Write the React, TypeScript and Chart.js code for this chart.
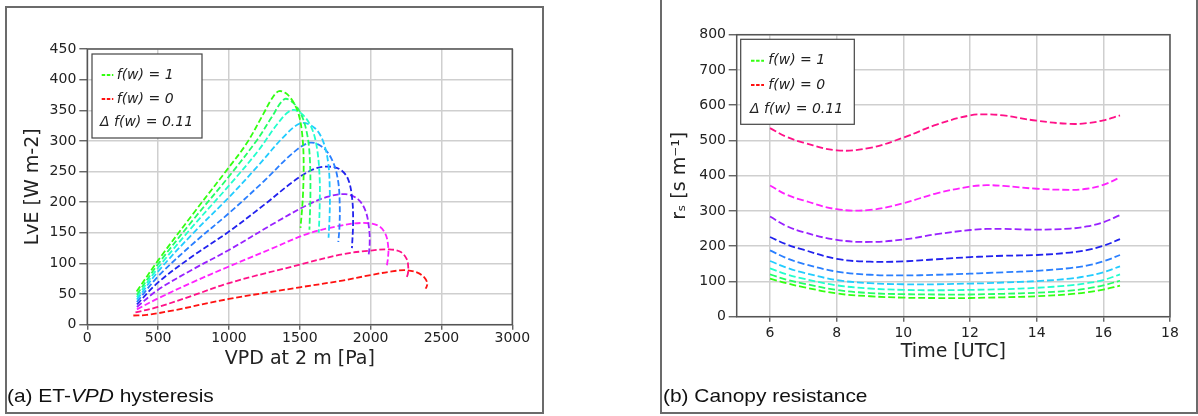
import React, { useEffect, useRef } from 'react';
import { Chart, registerables } from 'chart.js';

Chart.register(...registerables);

// ---------------- Panel (a): ET-VPD hysteresis ----------------
const vpdTicks = [0, 500, 1000, 1500, 2000, 2500, 3000];
const lveTicks = [0, 50, 100, 150, 200, 250, 300, 350, 400, 450];

// one loop per soil-water factor f(w), VPD [Pa] and LvE [W m-2]
const vpd_f100 = [348, 500, 750, 1000, 1125, 1245, 1300, 1350, 1400, 1450, 1490, 1515, 1527, 1522, 1505];
const lve_f100 = [54, 105, 182, 257, 296, 345, 368, 381, 378, 365, 345, 315, 270, 210, 158];
const vpd_f089 = [350, 500, 750, 1000, 1200, 1300, 1390, 1450, 1510, 1550, 1570, 1575, 1568];
const lve_f089 = [49, 99, 172, 242, 302, 338, 368, 363, 343, 313, 275, 215, 155];
const vpd_f078 = [350, 500, 750, 1000, 1200, 1350, 1440, 1510, 1580, 1620, 1640, 1640, 1634];
const lve_f078 = [45, 93, 162, 227, 282, 330, 350, 345, 323, 290, 240, 190, 150];
const vpd_f067 = [350, 500, 750, 1000, 1200, 1400, 1510, 1600, 1660, 1700, 1712, 1710, 1703];
const lve_f067 = [41, 87, 150, 208, 258, 310, 329, 322, 302, 265, 215, 175, 142];
const vpd_f056 = [350, 500, 750, 1000, 1250, 1450, 1570, 1660, 1730, 1770, 1782, 1780, 1772];
const lve_f056 = [37, 79, 133, 182, 235, 280, 297, 290, 268, 235, 195, 160, 135];
const vpd_f044 = [350, 500, 750, 1000, 1250, 1450, 1580, 1680, 1780, 1840, 1870, 1876, 1868];
const lve_f044 = [33, 69, 113, 152, 196, 233, 252, 258, 254, 238, 205, 165, 125];
const vpd_f033 = [350, 500, 750, 1000, 1300, 1550, 1700, 1820, 1910, 1965, 1990, 1993, 1985];
const lve_f033 = [29, 57, 91, 122, 163, 195, 209, 213, 205, 185, 155, 130, 112];
const vpd_f022 = [350, 500, 750, 1000, 1300, 1550, 1750, 1930, 2050, 2105, 2125, 2122, 2115];
const lve_f022 = [25, 43, 70, 95, 124, 148, 160, 166, 162, 148, 125, 108, 97];
const vpd_f011 = [340, 500, 750, 1000, 1500, 1800, 2000, 2130, 2210, 2255, 2266, 2262, 2255];
const lve_f011 = [20, 29, 48, 68, 98, 115, 121, 123, 119, 107, 92, 82, 78];
const vpd_f000 = [325, 420, 600, 1000, 1500, 1800, 2000, 2150, 2250, 2330, 2380, 2400, 2395, 2388];
const lve_f000 = [15, 16, 23, 42, 61, 72, 81, 87, 89, 85, 77, 68, 62, 59];

// ---------------- Panel (b): canopy resistance ----------------
const timeTicks = [6, 8, 10, 12, 14, 16, 18];
const rsTicks = [0, 100, 200, 300, 400, 500, 600, 700, 800];
const timeUTC = [6, 6.5, 7, 8, 9, 10, 11, 12, 12.5, 13, 14, 15, 15.5, 16, 16.5];
const rs_f100 = [108, 95, 84, 66, 58, 54, 53, 53, 54, 55, 58, 64, 69, 77, 88];
const rs_f089 = [120, 105, 94, 76, 67, 64, 63, 63, 64, 65, 68, 74, 80, 89, 102];
const rs_f078 = [137, 120, 108, 89, 80, 76, 75, 76, 77, 78, 82, 89, 95, 104, 120];
const rs_f067 = [158, 139, 125, 104, 95, 92, 92, 94, 95, 97, 101, 108, 115, 126, 143];
const rs_f056 = [188, 166, 150, 128, 119, 117, 119, 122, 124, 126, 130, 138, 145, 157, 175];
const rs_f044 = [226, 205, 190, 164, 156, 157, 163, 169, 171, 173, 175, 182, 189, 201, 220];
const rs_f033 = [284, 257, 240, 218, 212, 219, 234, 246, 249, 249, 247, 250, 256, 268, 288];
const rs_f022 = [372, 346, 330, 305, 303, 322, 350, 369, 373, 371, 363, 360, 363, 374, 395];
const rs_f011 = [535, 510, 494, 472, 479, 508, 545, 571, 574, 571, 556, 547, 549, 557, 571];

const fwLabels = ['f(w) = 1', 'f(w) = 0.89', 'f(w) = 0.78', 'f(w) = 0.67', 'f(w) = 0.56',
  'f(w) = 0.44', 'f(w) = 0.33', 'f(w) = 0.22', 'f(w) = 0.11', 'f(w) = 0'];
const fwColors = ['#33ff11', '#22ff66', '#22ffcc', '#22ccff', '#2a7fff',
  '#2222ee', '#9922ff', '#ff22ff', '#ff1188', '#ff1111'];
const legendTexts = ['f(w) = 1', 'f(w) = 0', 'Δ f(w) = 0.11'];

const FAM = '"DejaVu Sans", "Liberation Sans", sans-serif';

const zip = (xs: number[], ys: number[]) => xs.map((x, i) => ({ x, y: ys[i] }));

const leftSeries = [
  [vpd_f100, lve_f100], [vpd_f089, lve_f089], [vpd_f078, lve_f078], [vpd_f067, lve_f067],
  [vpd_f056, lve_f056], [vpd_f044, lve_f044], [vpd_f033, lve_f033], [vpd_f022, lve_f022],
  [vpd_f011, lve_f011], [vpd_f000, lve_f000],
];
const rightSeries = [rs_f100, rs_f089, rs_f078, rs_f067, rs_f056, rs_f044, rs_f033, rs_f022, rs_f011];

type Lay = {
  padT: number; padR: number; padB: number; yW: number; xH: number; yTitlePad: number;
  yTickLen: number; yTickPad: number; xTickLen: number; xTickPad: number;
};
type Leg = { dx: number; dy: number; w: number; h: number; rows: number[]; sx0: number; sx1: number; tx: number; dtx: number };

function frameLegendPlugin(leg: Leg) {
  return {
    id: 'frameLegend',
    afterDatasetsDraw(chart: any) {
      const { ctx, chartArea: a } = chart;
      ctx.save();
      ctx.setLineDash([]);
      ctx.strokeStyle = '#555';
      ctx.lineWidth = 1.5;
      ctx.strokeRect(a.left, a.top, a.right - a.left, a.bottom - a.top);
      const bx = a.left + leg.dx;
      const by = a.top + leg.dy;
      ctx.fillStyle = '#ffffff';
      ctx.fillRect(bx, by, leg.w, leg.h);
      ctx.strokeStyle = '#444';
      ctx.lineWidth = 1.2;
      ctx.strokeRect(bx, by, leg.w, leg.h);
      ctx.font = `italic 14px ${FAM}`;
      ctx.textBaseline = 'middle';
      ctx.textAlign = 'left';
      const sampleColors = [fwColors[0], fwColors[9], null];
      legendTexts.forEach((t, i) => {
        const y = by + leg.rows[i];
        const c = sampleColors[i];
        if (c) {
          ctx.setLineDash([3.5, 1.6]);
          ctx.strokeStyle = c;
          ctx.lineWidth = 2;
          ctx.beginPath();
          ctx.moveTo(bx + leg.sx0, y);
          ctx.lineTo(bx + leg.sx1, y);
          ctx.stroke();
          ctx.setLineDash([]);
          ctx.fillStyle = '#222';
          ctx.fillText(t, bx + leg.tx, y);
        } else {
          ctx.fillStyle = '#222';
          ctx.fillText(t, bx + leg.dtx, y);
        }
      });
      ctx.restore();
    },
  };
}

function buildConfig(opts: {
  datasets: any[]; xMin: number; xMax: number; yMin: number; yMax: number;
  xTicks: number[]; yTicks: number[]; xTitle: string; yTitle: string; lay: Lay; leg: Leg;
}) {
  const { lay } = opts;
  return {
    type: 'scatter' as const,
    data: { datasets: opts.datasets },
    options: {
      animation: false,
      responsive: false,
      maintainAspectRatio: false,
      devicePixelRatio: 1,
      layout: { padding: { left: 0, top: lay.padT, right: lay.padR, bottom: lay.padB } },
      plugins: { legend: { display: false }, tooltip: { enabled: false } },
      scales: {
        x: {
          type: 'linear',
          min: opts.xMin,
          max: opts.xMax,
          afterBuildTicks: (s: any) => { s.ticks = opts.xTicks.map((v) => ({ value: v })); },
          afterFit: (s: any) => { s.height = lay.xH; },
          ticks: {
            autoSkip: false, maxRotation: 0, padding: lay.xTickPad, color: '#222',
            font: { family: FAM, size: 14 }, callback: (v: any) => String(v),
          },
          grid: { color: '#cfcfcf', lineWidth: 1.5, tickLength: lay.xTickLen, tickColor: '#555', tickWidth: 1.3 },
          border: { display: false },
          title: { display: true, text: opts.xTitle, color: '#222', font: { family: FAM, size: 19 }, padding: 0 },
        },
        y: {
          type: 'linear',
          min: opts.yMin,
          max: opts.yMax,
          afterBuildTicks: (s: any) => { s.ticks = opts.yTicks.map((v) => ({ value: v })); },
          afterFit: (s: any) => { s.width = lay.yW; },
          ticks: {
            autoSkip: false, padding: lay.yTickPad, color: '#222',
            font: { family: FAM, size: 14 }, callback: (v: any) => String(v),
          },
          grid: { color: '#cfcfcf', lineWidth: 1.5, tickLength: lay.yTickLen, tickColor: '#555', tickWidth: 1.3 },
          border: { display: false },
          title: {
            display: true, text: opts.yTitle, color: '#222', font: { family: FAM, size: 19 },
            padding: { top: lay.yTitlePad, bottom: 0 },
          },
        },
      },
    },
    plugins: [frameLegendPlugin(opts.leg)],
  };
}

function ChartCanvas(props: { left: number; width: number; build: () => any }) {
  const ref = useRef<HTMLCanvasElement | null>(null);
  useEffect(() => {
    if (!ref.current) return;
    const chart = new Chart(ref.current, props.build());
    return () => chart.destroy();
  }, []);
  return (
    <canvas
      ref={ref}
      width={props.width}
      height={416}
      style={{ position: 'absolute', left: props.left, top: 0, width: props.width, height: 416, display: 'block' }}
    />
  );
}

const buildLeft = () =>
  buildConfig({
    datasets: leftSeries.map(([xs, ys], i) => ({
      label: fwLabels[i],
      data: zip(xs, ys),
      showLine: true,
      borderColor: fwColors[i],
      backgroundColor: fwColors[i],
      borderWidth: 1.8,
      borderDash: [6, 2.7],
      pointRadius: 0,
      tension: 0.35,
    })),
    xMin: 0, xMax: 3000, yMin: 0, yMax: 450,
    xTicks: vpdTicks, yTicks: lveTicks,
    xTitle: 'VPD at 2 m [Pa]', yTitle: 'LvE [W m-2]',
    lay: { padT: 49, padR: 87.7, padB: 45.6, yW: 87.3, xH: 45.7, yTitlePad: 21.6, yTickLen: 8, yTickPad: 3, xTickLen: 5, xTickPad: 0.5 },
    leg: { dx: 4.7, dy: 5, w: 110, h: 84, rows: [21, 45, 68], sx0: 9.7, sx1: 21.3, tx: 24.7, dtx: 8 },
  });

const buildRight = () =>
  buildConfig({
    datasets: rightSeries.map((ys, i) => ({
      label: fwLabels[i],
      data: zip(timeUTC, ys),
      showLine: true,
      borderColor: fwColors[i],
      backgroundColor: fwColors[i],
      borderWidth: 1.8,
      borderDash: [7, 3],
      pointRadius: 0,
      tension: 0.4,
    })),
    xMin: 5, xMax: 18, yMin: 0, yMax: 800,
    xTicks: timeTicks, yTicks: rsTicks,
    xTitle: 'Time [UTC]', yTitle: 'rₛ [s m⁻¹]',
    lay: { padT: 34.7, padR: 27, padB: 52.6, yW: 75.7, xH: 46.7, yTitlePad: 8.1, yTickLen: 8, yTickPad: 2.7, xTickLen: 5, xTickPad: 3.5 },
    leg: { dx: 4, dy: 4.6, w: 113.6, h: 85, rows: [21.4, 45.7, 70], sx0: 10.3, sx1: 23.3, tx: 27.6, dtx: 9.3 },
  });

const captionStyle: React.CSSProperties = {
  position: 'absolute',
  top: 385,
  fontFamily: '"Liberation Sans", Arial, sans-serif',
  fontSize: 18.5,
  lineHeight: 'normal',
  color: '#111',
  transform: 'scaleX(1.13)',
  transformOrigin: 'left top',
  whiteSpace: 'nowrap',
};

export default function App() {
  return (
    <div style={{ position: 'absolute', left: 0, top: 0, width: 1198, height: 416, overflow: 'hidden', background: '#fff' }}>
      <div style={{ position: 'absolute', left: 5, top: 6, width: 539, height: 408, boxSizing: 'border-box', border: '2px solid #6b6b6b' }} />
      <div style={{ position: 'absolute', left: 660, top: -2, width: 538, height: 416, boxSizing: 'border-box', border: '2px solid #6b6b6b' }} />
      <ChartCanvas left={0} width={600} build={buildLeft} />
      <ChartCanvas left={661} width={536} build={buildRight} />
      <div style={{ ...captionStyle, left: 7 }}>
        (a) ET-<i>VPD</i> hysteresis
      </div>
      <div style={{ ...captionStyle, left: 663 }}>(b) Canopy resistance</div>
    </div>
  );
}
